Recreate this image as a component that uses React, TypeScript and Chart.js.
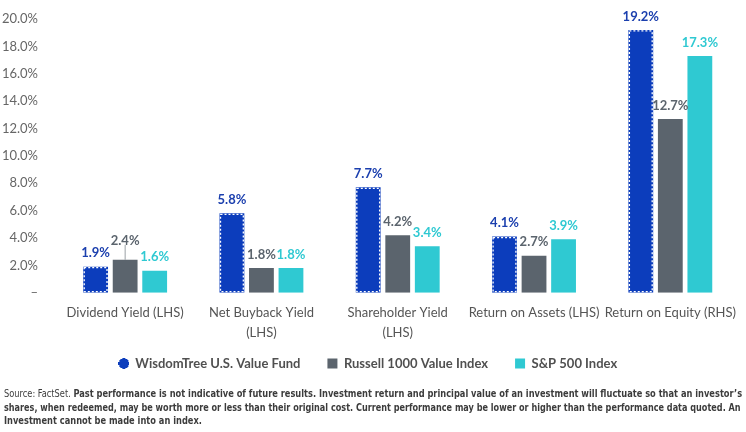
import React, { useEffect, useRef } from "react";
import { Chart, registerables } from "chart.js";

Chart.register(...registerables);

const categories: string[][] = [
  ["Dividend Yield (LHS)"],
  ["Net Buyback Yield", "(LHS)"],
  ["Shareholder Yield", "(LHS)"],
  ["Return on Assets (LHS)"],
  ["Return on Equity (RHS)"],
];
const wisdomTree = [1.9, 5.8, 7.7, 4.1, 19.2];
const russell1000Value = [2.4, 1.8, 4.2, 2.7, 12.7];
const sp500 = [1.6, 1.8, 3.4, 3.9, 17.3];
const seriesNames = ["WisdomTree U.S. Value Fund", "Russell 1000 Value Index", "S&P 500 Index"];

const BLUE = "#0c3dbc";
const GREY = "#5b646d";
const CYAN = "#2fc9d2";
const LABEL_COLORS = ["#1b3fae", "#5b646d", "#2fc9d2"];
const FONT = "Lato, 'Noto Sans', sans-serif";

function makeIcon(): HTMLCanvasElement {
  const c = document.createElement("canvas");
  c.width = 11;
  c.height = 11;
  const x = c.getContext("2d")!;
  x.fillStyle = BLUE;
  x.fillRect(1, 1, 9, 9);
  x.fillRect(4, 0, 3, 1);
  x.fillRect(4, 10, 3, 1);
  x.fillRect(0, 4, 1, 3);
  x.fillRect(10, 4, 1, 3);
  x.fillStyle = "#ffffff";
  x.fillRect(1, 1, 1, 1);
  x.fillRect(9, 1, 1, 1);
  x.fillRect(1, 9, 1, 1);
  x.fillRect(9, 9, 1, 1);
  return c;
}

const legendShift = {
  id: "legendShift",
  afterLayout(chart: any) {
    const lg = chart.legend;
    if (lg) {
      lg.top -= 23;
      lg.bottom -= 23;
      lg.left -= 5;
      lg.right -= 5;
    }
  },
};

const dottedBorder = {
  id: "dottedBorder",
  afterDatasetsDraw(chart: any) {
    const ctx = chart.ctx;
    const meta = chart.getDatasetMeta(0);
    ctx.save();
    ctx.strokeStyle = "#ffffff";
    ctx.lineWidth = 1.3;
    ctx.setLineDash([2, 2]);
    meta.data.forEach((el: any) => {
      const p = el.getProps(["x", "y", "base", "width"], true);
      const l = p.x - p.width / 2 + 1;
      const t = p.y + 1;
      ctx.strokeRect(l, t, p.width - 2, p.base - p.y - 2);
    });
    ctx.restore();
  },
};

const valueLabels = {
  id: "valueLabels",
  afterDatasetsDraw(chart: any) {
    const ctx = chart.ctx;
    ctx.save();
    ctx.font = `bold 13px ${FONT}`;
    ctx.textAlign = "center";
    ctx.textBaseline = "bottom";
    const metas = [0, 1, 2].map((i) => chart.getDatasetMeta(i));
    metas.forEach((meta: any, di: number) => {
      meta.data.forEach((el: any, idx: number) => {
        const v = chart.data.datasets[di].data[idx];
        let y = el.y - 7;
        if (di === 1) {
          const yb = metas[0].data[idx].y;
          const yc = metas[2].data[idx].y;
          if (Math.abs(yb - el.y) < 12 && Math.abs(yc - el.y) < 12) {
            y = el.y - 13;
            ctx.strokeStyle = "#9aa0a6";
            ctx.lineWidth = 1;
            ctx.beginPath();
            ctx.moveTo(el.x, y - 2);
            ctx.lineTo(el.x, el.y);
            ctx.stroke();
          }
        }
        ctx.fillStyle = LABEL_COLORS[di];
        ctx.fillText(v.toFixed(1) + "%", el.x, y);
      });
    });
    ctx.restore();
  },
};

export default function App() {
  const ref = useRef<HTMLCanvasElement>(null);
  const l1 = useRef<HTMLDivElement>(null);
  const l2 = useRef<HTMLDivElement>(null);
  const l3 = useRef<HTMLDivElement>(null);
  useEffect(() => {
    document.body.style.margin = "0";
    const icon = makeIcon();
    const chart = new Chart(ref.current!, {
      type: "bar",
      data: {
        labels: categories,
        datasets: [
          { label: seriesNames[0], data: wisdomTree, backgroundColor: BLUE, borderWidth: 0 },
          { label: seriesNames[1], data: russell1000Value, backgroundColor: GREY, borderWidth: 0 },
          { label: seriesNames[2], data: sp500, backgroundColor: CYAN, borderWidth: 0 },
        ],
      },
      options: {
        responsive: false,
        animation: false,
        layout: { padding: { top: 19, right: 0, left: 0, bottom: 0 } },
        datasets: { bar: { categoryPercentage: 0.65, barPercentage: 0.84 } },
        plugins: {
          tooltip: { enabled: false },
          legend: {
            position: "bottom",
            labels: {
              usePointStyle: true,
              boxWidth: 10,
              boxHeight: 10,
              padding: 27,
              color: "#505050",
              font: { family: FONT, size: 13, weight: "bold" },
              generateLabels: (c: any) => {
                const items = Chart.defaults.plugins.legend.labels.generateLabels(c);
                items.forEach((it: any, i: number) => {
                  it.pointStyle = i === 0 ? icon : "rect";
                  it.lineWidth = 0;
                });
                return items;
              },
            },
          },
        },
        scales: {
          x: {
            grid: { display: false, drawTicks: false },
            border: { display: false },
            ticks: {
              color: "#555555",
              padding: 10,
              maxRotation: 0,
              autoSkip: false,
              font: { family: FONT, size: 13, lineHeight: 1.55 },
            },
          },
          y: {
            min: 0,
            max: 20,
            grid: { display: false, drawTicks: false },
            border: { display: false },
            afterFit: (s: any) => {
              s.width = 57;
              s.paddingTop = 8;
              s.paddingBottom = 8;
            },
            ticks: {
              stepSize: 2,
              padding: 19,
              color: "#666666",
              font: { family: FONT, size: 13 },
              callback: (v: any) => (v === 0 ? "–" : Number(v).toFixed(1) + "%"),
            },
          },
        },
      },
      plugins: [legendShift, dottedBorder, valueLabels],
    });
    const fit = (el: HTMLDivElement | null, w: number) => {
      if (!el) return 1;
      const s = w / el.offsetWidth;
      el.style.transform = `scaleX(${s})`;
      return s;
    };
    const s2 = fit(l1.current, 738);
    fit(l2.current, 737);
    if (l3.current) l3.current.style.transform = `scaleX(${s2})`;
    return () => chart.destroy();
  }, []);

  const footFont = "'Liberation Sans Narrow', 'DejaVu Sans Condensed', 'Liberation Sans', sans-serif";
  const lineStyle: React.CSSProperties = { display: "inline-block", transformOrigin: "0 0", whiteSpace: "nowrap" };
  return (
    <div style={{ position: "relative", width: 746, height: 432, background: "#fff", overflow: "hidden" }}>
      <canvas ref={ref} width={746} height={403} style={{ display: "block", position: "absolute", left: 0, top: 0 }} />
      <div
        style={{
          position: "absolute",
          left: 4,
          top: 387,
          fontFamily: footFont,
          fontSize: 11,
          lineHeight: "13.5px",
          color: "#3c3c3c",
          width: 1200,
        }}
      >
        <div>
          <div ref={l1} style={lineStyle}>
            Source: FactSet.{" "}
            <b>
              Past performance is not indicative of future results. Investment return and principal value of an investment will fluctuate so that an investor’s
            </b>
          </div>
        </div>
        <div>
          <div ref={l2} style={lineStyle}>
            <b>
              shares, when redeemed, may be worth more or less than their original cost. Current performance may be lower or higher than the performance data quoted. An
            </b>
          </div>
        </div>
        <div>
          <div ref={l3} style={lineStyle}>
            <b>Investment cannot be made into an index.</b>
          </div>
        </div>
      </div>
    </div>
  );
}
